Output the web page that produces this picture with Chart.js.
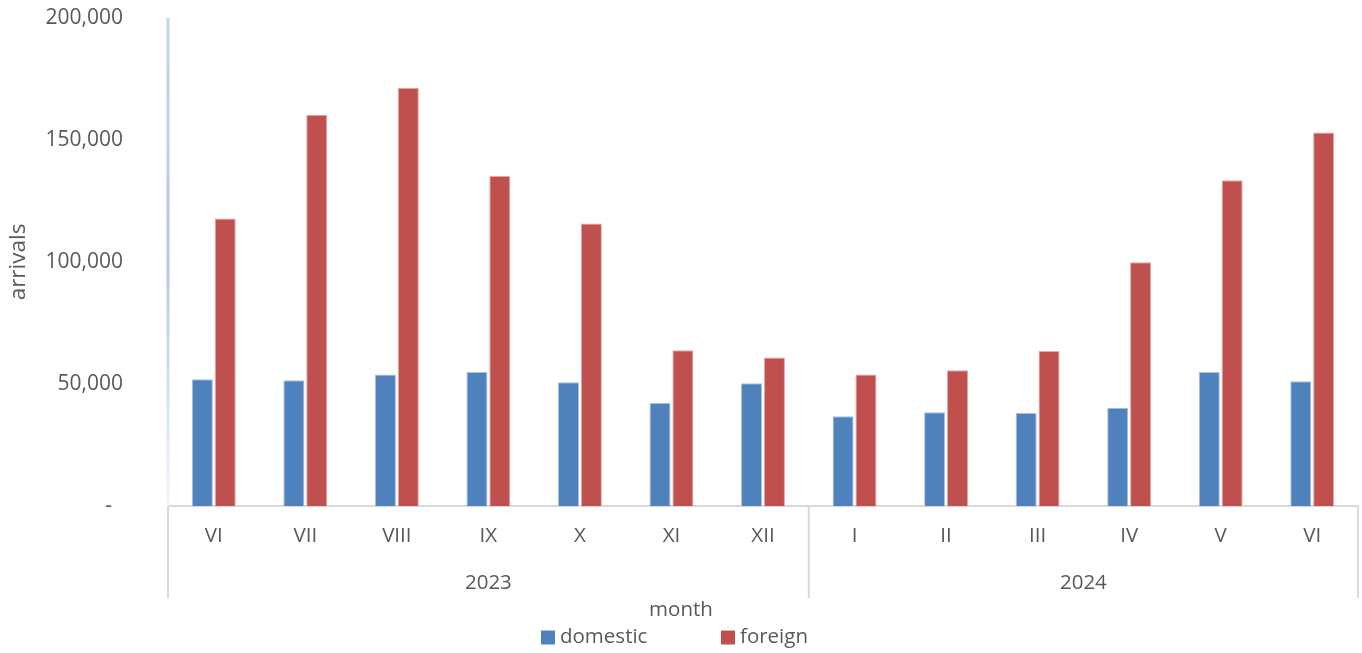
<!DOCTYPE html>
<html>
<head>
<meta charset="utf-8">
<script src="https://cdn.jsdelivr.net/npm/chart.js@4"></script>
<style>
  html, body { margin: 0; padding: 0; background: #fff; }
  #wrap { width: 1362px; height: 653px; position: relative; }
</style>
</head>
<body>
<div id="wrap"><canvas id="arrivalsChart"></canvas></div>
<script>
// chart data
var months = ['VI', 'VII', 'VIII', 'IX', 'X', 'XI', 'XII', 'I', 'II', 'III', 'IV', 'V', 'VI'];
var years = ['2023', '2024'];
var yearSpans = [7, 6]; // how many months fall under each year
var domestic = [51900, 51500, 53900, 54900, 50700, 42200, 50300, 36800, 38400, 38100, 40300, 54900, 51100];
var foreign = [117800, 160300, 171400, 135200, 115800, 63800, 60900, 53900, 55600, 63500, 99900, 133500, 153100];
var yTicks = [0, 50000, 100000, 150000, 200000];

var textColor = '#595959';
var fontFamily = "'Open Sans', sans-serif";
var lineGray = '#d9d9d9';

// year row under the month labels, group separators and the "month" caption
var yearRowPlugin = {
  id: 'yearRow',
  afterDraw: function (chart) {
    var ctx = chart.ctx;
    var x = chart.scales.x;
    var area = chart.chartArea;
    var step = (x.getPixelForValue(1) - x.getPixelForValue(0));
    ctx.save();
    ctx.strokeStyle = lineGray;
    ctx.lineWidth = 2;
    var start = 0;
    var edges = [x.getPixelForValue(0) - step / 2];
    yearSpans.forEach(function (span) {
      start += span;
      edges.push(x.getPixelForValue(start - 1) + step / 2);
    });
    edges.forEach(function (px) {
      ctx.beginPath();
      ctx.moveTo(px, area.bottom);
      ctx.lineTo(px, 598);
      ctx.stroke();
    });
    ctx.fillStyle = textColor;
    ctx.font = '20.5px ' + fontFamily;
    ctx.textAlign = 'center';
    ctx.textBaseline = 'middle';
    years.forEach(function (label, i) {
      ctx.fillText(label, (edges[i] + edges[i + 1]) / 2, 583);
    });
    // axis caption sits centred on the whole picture, not the plot
    ctx.fillText('month', chart.width / 2, 610);
    ctx.restore();
  }
};

// pale blue value axis line, fading towards the bottom
var valueAxisLine = {
  id: 'valueAxisLine',
  beforeDatasetsDraw: function (chart) {
    var ctx = chart.ctx;
    var area = chart.chartArea;
    var grad = ctx.createLinearGradient(0, area.top, 0, area.bottom);
    grad.addColorStop(0, '#c3d5ec');
    grad.addColorStop(0.5, '#b4cae6');
    grad.addColorStop(1, '#f2f6fb');
    ctx.save();
    ctx.strokeStyle = grad;
    ctx.lineWidth = 3;
    ctx.beginPath();
    ctx.moveTo(area.left, area.top);
    ctx.lineTo(area.left, area.bottom);
    ctx.stroke();
    ctx.restore();
  }
};

// simple legend row at the bottom
var bottomLegend = {
  id: 'bottomLegend',
  afterDraw: function (chart) {
    var ctx = chart.ctx;
    var xs = [541, 721];
    ctx.save();
    ctx.font = '20.5px ' + fontFamily;
    ctx.textBaseline = 'middle';
    ctx.textAlign = 'left';
    chart.data.datasets.forEach(function (ds, i) {
      ctx.fillStyle = ds.backgroundColor;
      ctx.fillRect(xs[i], 630.5, 14, 14);
      ctx.fillStyle = textColor;
      ctx.fillText(ds.label, xs[i] + 19, 637);
    });
    ctx.restore();
  }
};

var chart = new Chart(document.getElementById('arrivalsChart'), {
  type: 'bar',
  data: {
    labels: months,
    datasets: [{
      label: 'domestic',
      data: domestic,
      backgroundColor: '#4f81bd',
      borderColor: '#a9c1e0',
      borderWidth: { top: 1, left: 1, right: 1, bottom: 0 }
    }, {
      label: 'foreign',
      data: foreign,
      backgroundColor: '#c0504d',
      borderColor: '#e3a9a7',
      borderWidth: { top: 1, left: 1, right: 1, bottom: 0 }
    }]
  },
  options: {
    responsive: true,
    maintainAspectRatio: false,
    animation: false,
    datasets: {
      bar: { categoryPercentage: 0.5, barPercentage: 0.92 }
    },
    layout: { padding: { top: 18, right: 4, left: 0, bottom: 0 } },
    plugins: {
      legend: { display: false },
      tooltip: { enabled: false }
    },
    scales: {
      x: {
        grid: { display: false, drawTicks: false },
        border: { display: true, color: lineGray, width: 2 },
        ticks: {
          color: textColor,
          font: { size: 20.5, family: fontFamily },
          padding: 18,
          maxRotation: 0,
          autoSkip: false
        },
        afterFit: function (scale) { scale.height = 147; }
      },
      y: {
        min: 0,
        max: 200000,
        grid: { display: false, drawTicks: false },
        border: { display: false },
        afterBuildTicks: function (scale) {
          scale.ticks = yTicks.map(function (v) { return { value: v }; });
        },
        ticks: {
          color: textColor,
          font: { size: 21, family: fontFamily },
          padding: 45,
          callback: function (v) {
            return v === 0 ? '-  ' : v.toLocaleString('en-US');
          }
        },
        title: {
          display: true,
          text: 'arrivals',
          color: textColor,
          font: { size: 22.5, family: fontFamily },
          padding: { top: 5, bottom: 0 }
        },
        afterFit: function (scale) {
          scale.width = 168;
          // tick padding would otherwise push the plot top down
          scale.paddingTop = 0;
          scale.paddingBottom = 0;
        }
      }
    }
  },
  plugins: [yearRowPlugin, valueAxisLine, bottomLegend]
});
</script>
</body>
</html>
